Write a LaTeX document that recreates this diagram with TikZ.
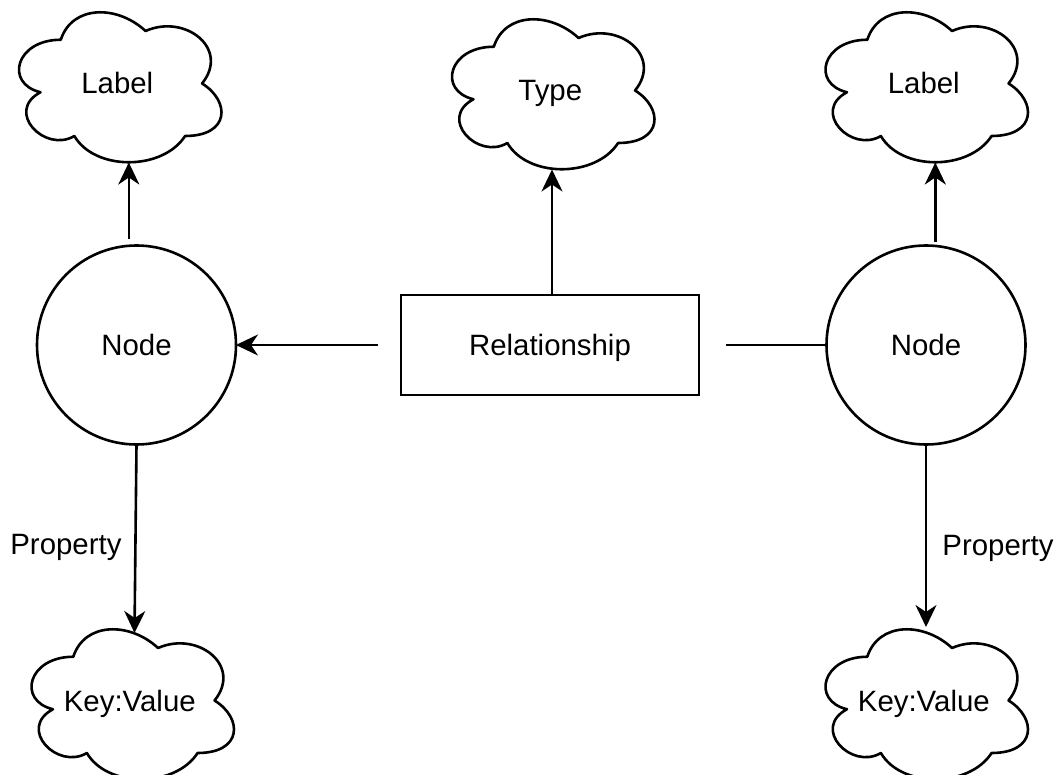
\documentclass[tikz,border=0pt]{standalone}
\usepackage{fontspec}
\setmainfont{Liberation Sans}
\usetikzlibrary{arrows.meta}

% cloud outline in a unit box (y grows downward), scaled to w x h at (x0,y0)
\newcommand{\cloudoutline}[4]{%
  \begin{scope}[shift={(#1,#2)}, xscale=#3, yscale=#4]
    \draw[outline] (0.25,0.25)
      .. controls (0.05,0.25) and (0,0.5) .. (0.16,0.55)
      .. controls (0,0.66) and (0.18,0.9) .. (0.31,0.8)
      .. controls (0.4,1) and (0.7,1) .. (0.8,0.8)
      .. controls (1,0.8) and (1,0.6) .. (0.875,0.5)
      .. controls (1,0.3) and (0.8,0.1) .. (0.625,0.2)
      .. controls (0.5,0.05) and (0.3,0.05) .. (0.25,0.25)
      -- cycle;
  \end{scope}}
% named cloud: name, x0, y0, w, h, text
\newcommand{\cloudnode}[6]{%
  \cloudoutline{#2}{#3}{#4}{#5}
  \node[cloudbox, minimum width=#4pt, minimum height=#5pt] (#1)
    at ({#2+0.5*#4},{#3+0.5*#5}) {#6};}

\begin{document}
\begin{tikzpicture}[x=1pt, y=-1pt,
  outline/.style={line width=2.6pt, line join=round},
  base/.style={font=\fontsize{29.4}{35}\selectfont, text height=21pt,
    text depth=0pt, inner sep=0pt, outer sep=0pt},
  cloudbox/.style={base, rectangle},
  entity/.style={base, draw, line width=2.6pt, circle, minimum size=199pt},
  relbox/.style={base, draw, line width=2.6pt, rectangle,
    minimum width=298pt, minimum height=100pt},
  edgelabel/.style={base},
  link/.style={line width=2.6pt},
  arr/.style={link, -{Stealth[length=22pt, width=21pt, inset=7pt]}}]
\useasboundingbox (0,0) rectangle (1057,775);

% clouds
\cloudnode{lblL}{4.3}{-4}{226}{175}{Label}
\cloudnode{typ}{437.3}{3}{226}{175}{Type}
\cloudnode{lblR}{810.8}{-4}{226}{175}{Label}
\cloudnode{kvL}{16.8}{613}{226}{175}{Key:Value}
\cloudnode{kvR}{810.8}{613}{226}{175}{Key:Value}

% graph elements
\node[entity] (nodeL) at (136.5,345) {Node};
\node[entity] (nodeR) at (926,345) {Node};
\node[relbox] (rel) at (550,345) {Relationship};

% connectors
\draw[arr] ([xshift=-7.7pt, yshift=6pt]nodeL.north)
  -- ([xshift=11.5pt, yshift=8.5pt]lblL.south);
\draw[arr] ([xshift=9.3pt, yshift=3pt]nodeR.north)
  -- ([xshift=11.5pt, yshift=8.5pt]lblR.south);
\draw[arr] ([xshift=2pt]rel.north)
  -- ([xshift=1.7pt, yshift=8.5pt]typ.south);
\draw[arr] ([xshift=-23pt]rel.west) -- (nodeL.east);
\draw[link] ([xshift=27pt]rel.east) -- (nodeR.west);
\draw[arr] (nodeL.south)
  -- node[edgelabel, pos=0.53, xshift=-69.5pt] (propL) {Property}
  ([xshift=4.7pt, yshift=-20pt]kvL.north);
\draw[arr] (nodeR.south)
  -- node[edgelabel, pos=0.55, xshift=72pt] (propR) {Property}
  ([xshift=2.2pt, yshift=-14pt]kvR.north);
\end{tikzpicture}
\end{document}
